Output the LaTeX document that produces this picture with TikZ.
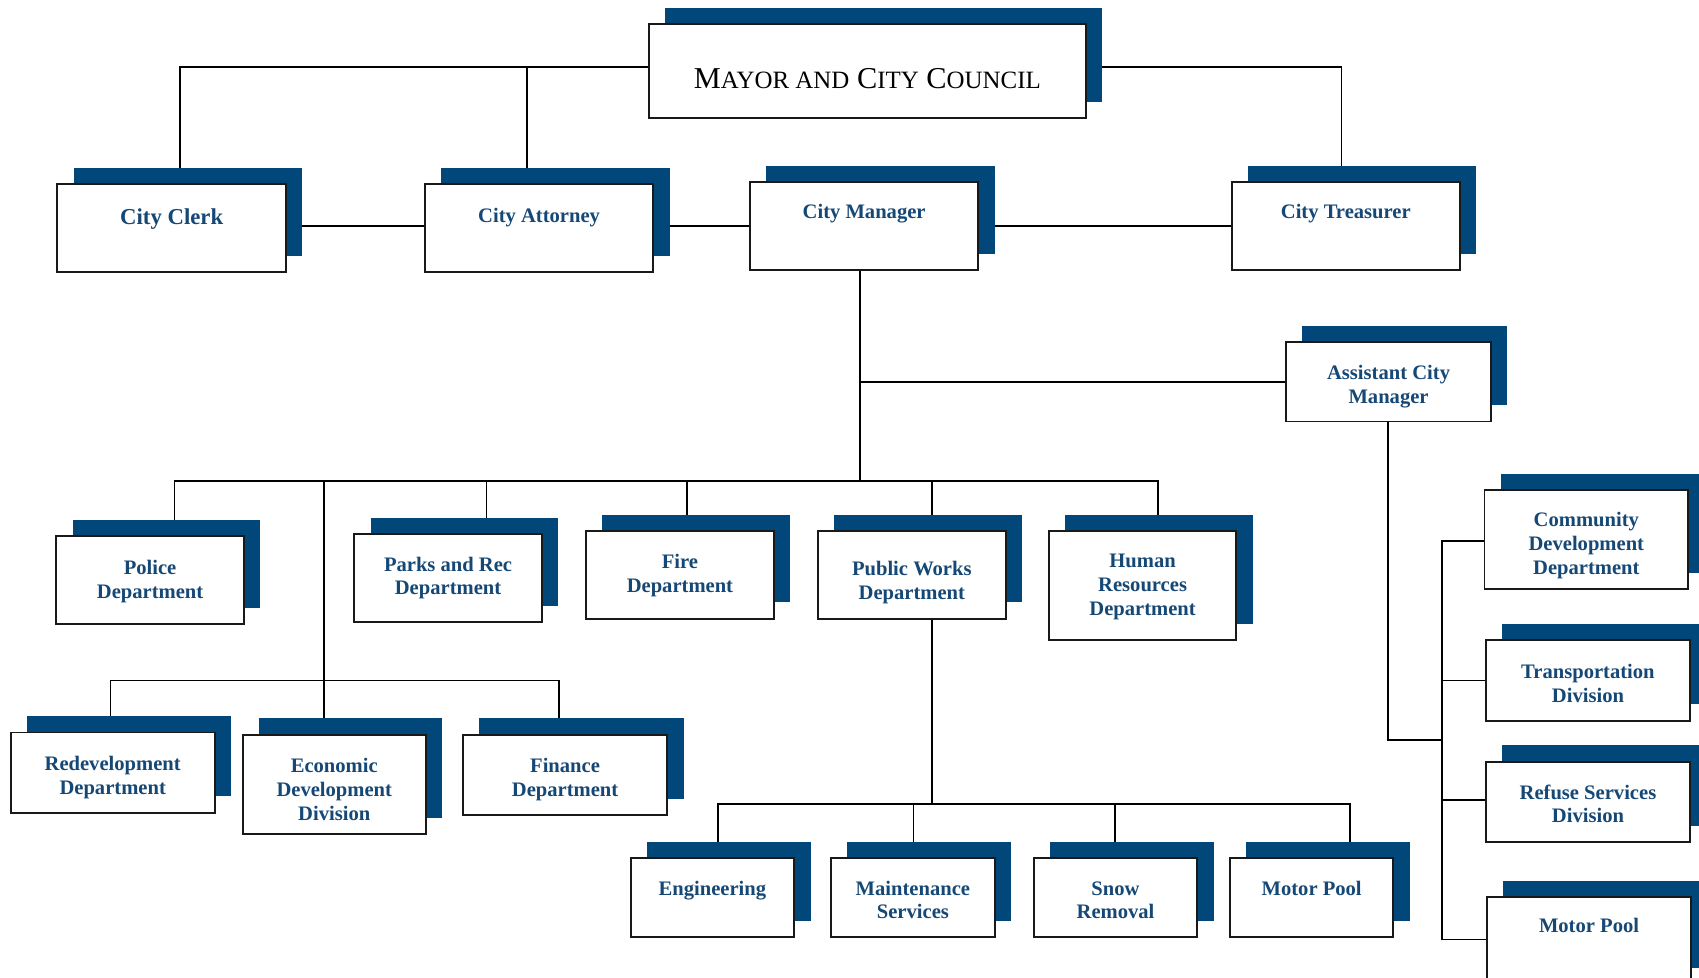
\documentclass[tikz,border=0pt]{standalone}
\usepackage{fontspec}
\newfontfamily\boxfont{Liberation Serif}
\usetikzlibrary{shadows}
\definecolor{shadowblue}{RGB}{2,71,122}
\definecolor{textblue}{RGB}{22,72,118}
\pgfdeclarelayer{bg}
\pgfsetlayers{bg,main}
\newcommand\lines[1]{\begin{tabular}[t]{@{}c@{}}#1\end{tabular}}
\newcommand\smc[1]{{\fontsize{23}{26}\selectfont #1}}
\begin{document}
\begin{tikzpicture}[x=1pt,y=-1pt,
  box/.style={draw=black!90, line width=1.8pt, fill=white, rectangle, inner sep=0pt, outer sep=0pt,
    anchor=north west, general shadow={fill=shadowblue, shadow xshift=15pt, shadow yshift=15pt}},
  lbl/.style={anchor=base, inner sep=0pt, text=textblue, font=\boxfont\bfseries\fontsize{19}{22}\selectfont},
  conn/.style={draw=black, line width=1.7pt}]
\useasboundingbox (0,0) rectangle (1568,902);

% boxes
\node[box, minimum width=403pt, minimum height=87pt] (mayor) at (599,22) {};
\node[box, minimum width=211pt, minimum height=81pt] (clerk) at (53,170) {};
\node[box, minimum width=211pt, minimum height=81pt] (attorney) at (392,170) {};
\node[box, minimum width=211pt, minimum height=81pt] (manager) at (692,168) {};
\node[box, minimum width=210pt, minimum height=81pt] (treasurer) at (1137,168) {};
\node[box, minimum width=189pt, minimum height=73pt] (acm) at (1187,316) {};
\node[box, minimum width=173pt, minimum height=81pt] (police) at (52,495) {};
\node[box, minimum width=173pt, minimum height=81pt] (parks) at (327,493) {};
\node[box, minimum width=173pt, minimum height=81pt] (fire) at (541,490) {};
\node[box, minimum width=173pt, minimum height=81pt] (pw) at (755,490) {};
\node[box, minimum width=173pt, minimum height=101pt] (hr) at (968,490) {};
\node[box, minimum width=188pt, minimum height=74pt] (redev) at (10,676) {};
\node[box, minimum width=169pt, minimum height=92pt] (econ) at (224,678) {};
\node[box, minimum width=189pt, minimum height=74pt] (finance) at (427,678) {};
\node[box, minimum width=151pt, minimum height=73pt] (eng) at (582,792) {};
\node[box, minimum width=151pt, minimum height=73pt] (maint) at (767,792) {};
\node[box, minimum width=151pt, minimum height=73pt] (snow) at (954,792) {};
\node[box, minimum width=151pt, minimum height=73pt] (mpool) at (1135,792) {};
\node[box, minimum width=188pt, minimum height=92pt] (commdev) at (1370,452) {};
\node[box, minimum width=189pt, minimum height=74pt] (transp) at (1371,591) {};
\node[box, minimum width=189pt, minimum height=74pt] (refuse) at (1371,703) {};
\node[box, minimum width=189pt, minimum height=80pt] (mpoolr) at (1372,828) {};

% texts
\node[anchor=base, inner sep=0pt, font=\boxfont\fontsize{28}{30}\selectfont] (mayor-t) at (mayor.center |- 0,81.5) {M\smc{AYOR AND} C\smc{ITY} C\smc{OUNCIL}};
\node[lbl, font=\boxfont\bfseries\fontsize{21}{24}\selectfont] (clerk-t) at (clerk.center |- 0,207) {City Clerk};
\node[lbl] (attorney-t) at (attorney.center |- 0,205) {City Attorney};
\node[lbl] (manager-t) at (manager.center |- 0,202) {City Manager};
\node[lbl] (treasurer-t) at (treasurer.center |- 0,202) {City Treasurer};
\node[lbl] (acm-t) at (acm.center |- 0,350) {\lines{Assistant City\\Manager}};
\node[lbl] (police-t) at (police.center |- 0,530) {\lines{Police\\Department}};
\node[lbl] (parks-t) at (parks.center |- 0,527) {\lines{Parks and Rec\\Department}};
\node[lbl] (fire-t) at (fire.center |- 0,524.5) {\lines{Fire\\Department}};
\node[lbl] (pw-t) at (pw.center |- 0,531.5) {\lines{Public Works\\Department}};
\node[lbl] (hr-t) at (hr.center |- 0,524) {\lines{Human\\Resources\\Department}};
\node[lbl] (redev-t) at (redev.center |- 0,711) {\lines{Redevelopment\\Department}};
\node[lbl] (econ-t) at (econ.center |- 0,713) {\lines{Economic\\Development\\Division}};
\node[lbl] (finance-t) at (finance.center |- 0,713) {\lines{Finance\\Department}};
\node[lbl] (eng-t) at (eng.center |- 0,826) {Engineering};
\node[lbl] (maint-t) at (maint.center |- 0,826) {\lines{Maintenance\\Services}};
\node[lbl] (snow-t) at (snow.center |- 0,826) {\lines{Snow\\Removal}};
\node[lbl] (mpool-t) at (mpool.center |- 0,826) {Motor Pool};
\node[lbl] (commdev-t) at (commdev.center |- 0,486) {\lines{Community\\Development\\Department}};
\node[lbl] (transp-t) at (transp.center |- 0,626) {\lines{Transportation\\Division}};
\node[lbl] (refuse-t) at (refuse.center |- 0,737.5) {\lines{Refuse Services\\Division}};
\node[lbl] (mpoolr-t) at (mpoolr.center |- 0,861) {Motor Pool};

% junction coordinates
\coordinate (t1) at (166,62);
\coordinate (t2) at (486,62);
\coordinate (t3) at (1238,62);
\coordinate (m1) at (794,444);
\coordinate (b1) at (161,444);
\coordinate (b2) at (449,444);
\coordinate (b3) at (634,444);
\coordinate (b4) at (860,444);
\coordinate (b5) at (1069,444);
\coordinate (e0) at (299,444);
\coordinate (r1) at (102,628);
\coordinate (f1) at (516,628);
\coordinate (p0) at (860,742);
\coordinate (q1) at (663,742);
\coordinate (q2) at (843,742);
\coordinate (q3) at (1029,742);
\coordinate (q4) at (1246,742);
\coordinate (a1) at (1281,683);
\coordinate (a2) at (1331,683);
\coordinate (c1) at (1331,499);
\coordinate (c2) at (1331,628);
\coordinate (c3) at (1331,738);
\coordinate (c4) at (1331,867);

\begin{pgfonlayer}{bg}
\draw[conn] (t1 |- clerk.north) -- (t1) -- (t1 -| mayor.west);
\draw[conn] (t2) -- (t2 |- attorney.north);
\draw[conn] (t1 -| mayor.east) -- (t3) -- (t3 |- treasurer.north);
\draw[conn] (clerk.east |- manager.west) -- (treasurer.west |- manager.west);
\draw[conn] (m1 |- manager.south) -- (m1);
\draw[conn] (m1 |- acm.west) -- (acm.west);
\draw[conn] (b1 |- police.north) -- (b1) -- (b5) -- (b5 |- hr.north);
\draw[conn] (b2) -- (b2 |- parks.north);
\draw[conn] (b3) -- (b3 |- fire.north);
\draw[conn] (b4) -- (b4 |- pw.north);
\draw[conn] (e0) -- (e0 |- econ.north);
\draw[conn] (r1 |- redev.north) -- (r1) -- (f1) -- (f1 |- finance.north);
\draw[conn] (p0 |- pw.south) -- (p0);
\draw[conn] (q1 |- eng.north) -- (q1) -- (q4) -- (q4 |- mpool.north);
\draw[conn] (q2) -- (q2 |- maint.north);
\draw[conn] (q3) -- (q3 |- snow.north);
\draw[conn] (a1 |- acm.south) -- (a1) -- (a2);
\draw[conn] (c1 -| commdev.west) -- (c1) -- (c4) -- (c4 -| mpoolr.west);
\draw[conn] (c2) -- (c2 -| transp.west);
\draw[conn] (c3) -- (c3 -| refuse.west);
\end{pgfonlayer}
\end{tikzpicture}
\end{document}
